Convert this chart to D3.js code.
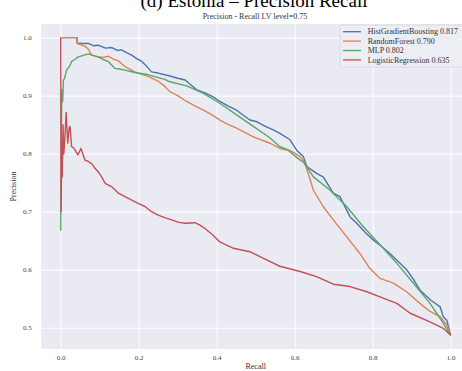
<!DOCTYPE html>
<html>
<head>
<meta charset="utf-8">
<script src="https://cdn.jsdelivr.net/npm/d3@7"></script>
<style>
  body { margin: 0; background: #fff; }
  text { font-family: "Liberation Serif", "DejaVu Serif", serif; }
</style>
</head>
<body>
<div id="chart"></div>
<script>
const WIDTH = 462;
const HEIGHT = 371;
const PLOT = { LEFT: 41.2, RIGHT: 470.2, TOP: 24, BOTTOM: 349 };

const xTicks = [0, 0.2, 0.4, 0.6, 0.8, 1.0];
const yTicks = [0.5, 0.6, 0.7, 0.8, 0.9, 1.0];

const seriesNames = ['HistGradientBoosting 0.817', 'RandomForest 0.790', 'MLP 0.802', 'LogisticRegression 0.635'];
const seriesColors = ['#4C72B0', '#DD8452', '#55A868', '#C44E52'];

// [recall, precision]
const hgbCurve = [
  [0, 1.0], [0.042, 1.0], [0.042, 0.991], [0.055, 0.99], [0.071, 0.99], [0.085, 0.986], [0.096, 0.987],
  [0.115, 0.982], [0.131, 0.983], [0.145, 0.978], [0.156, 0.979], [0.17, 0.974], [0.182, 0.97],
  [0.195, 0.964], [0.208, 0.959], [0.22, 0.951], [0.233, 0.941], [0.25, 0.939], [0.267, 0.936],
  [0.28, 0.934], [0.3, 0.93], [0.319, 0.927], [0.335, 0.918], [0.349, 0.91], [0.37, 0.905],
  [0.391, 0.898], [0.408, 0.89], [0.43, 0.882], [0.451, 0.875], [0.485, 0.858], [0.503, 0.855],
  [0.525, 0.847], [0.545, 0.841], [0.562, 0.835], [0.588, 0.824], [0.605, 0.806], [0.622, 0.795],
  [0.631, 0.778], [0.656, 0.766], [0.673, 0.76], [0.699, 0.732], [0.716, 0.726], [0.742, 0.691],
  [0.759, 0.68], [0.781, 0.664], [0.802, 0.651], [0.823, 0.64], [0.844, 0.628], [0.87, 0.611],
  [0.887, 0.6], [0.905, 0.583], [0.921, 0.565], [0.935, 0.556], [0.95, 0.547], [0.973, 0.536],
  [0.981, 0.519], [0.99, 0.513], [1.0, 0.487]
];

const rfCurve = [
  [0, 1.0], [0.042, 1.0], [0.042, 0.99], [0.054, 0.987], [0.063, 0.985], [0.071, 0.98], [0.079, 0.97],
  [0.096, 0.967], [0.11, 0.966], [0.122, 0.968], [0.135, 0.963], [0.148, 0.96], [0.165, 0.95],
  [0.19, 0.941], [0.225, 0.933], [0.25, 0.925], [0.267, 0.916], [0.28, 0.907], [0.3, 0.9],
  [0.323, 0.89], [0.345, 0.882], [0.366, 0.875], [0.39, 0.866], [0.408, 0.858], [0.43, 0.85],
  [0.451, 0.844], [0.494, 0.829], [0.537, 0.818], [0.562, 0.809], [0.59, 0.805], [0.614, 0.795],
  [0.625, 0.785], [0.635, 0.765], [0.648, 0.737], [0.673, 0.709], [0.699, 0.686], [0.733, 0.657],
  [0.767, 0.628], [0.793, 0.602], [0.819, 0.585], [0.853, 0.577], [0.887, 0.562], [0.921, 0.542],
  [0.947, 0.528], [0.973, 0.519], [0.99, 0.505], [1.0, 0.487]
];

const mlpCurve = [
  [0, 0.667], [0.001, 0.75], [0.002, 0.86], [0.003, 0.91], [0.005, 0.89], [0.007, 0.927], [0.01, 0.93],
  [0.015, 0.944], [0.022, 0.95], [0.028, 0.959], [0.035, 0.962], [0.045, 0.967], [0.06, 0.97],
  [0.071, 0.972], [0.085, 0.969], [0.096, 0.967], [0.11, 0.962], [0.122, 0.959], [0.139, 0.947],
  [0.15, 0.946], [0.165, 0.944], [0.19, 0.94], [0.225, 0.936], [0.267, 0.928], [0.28, 0.924],
  [0.323, 0.917], [0.366, 0.904], [0.408, 0.887], [0.451, 0.867], [0.494, 0.847], [0.537, 0.827],
  [0.562, 0.812], [0.579, 0.808], [0.614, 0.789], [0.622, 0.786], [0.648, 0.76], [0.691, 0.737],
  [0.733, 0.709], [0.776, 0.674], [0.819, 0.643], [0.862, 0.611], [0.904, 0.577], [0.947, 0.542],
  [0.981, 0.508], [1.0, 0.487]
];

const lrCurve = [
  [0, 1.0], [0.001, 0.7], [0.003, 0.82], [0.004, 0.76], [0.006, 0.85], [0.008, 0.8], [0.011, 0.83],
  [0.014, 0.871], [0.018, 0.818], [0.022, 0.845], [0.024, 0.847], [0.028, 0.812], [0.033, 0.81],
  [0.037, 0.806], [0.044, 0.798], [0.052, 0.809], [0.062, 0.789], [0.07, 0.787], [0.079, 0.783],
  [0.088, 0.775], [0.096, 0.769], [0.105, 0.76], [0.114, 0.749], [0.131, 0.743], [0.148, 0.732],
  [0.165, 0.726], [0.182, 0.72], [0.2, 0.714], [0.216, 0.709], [0.233, 0.7], [0.25, 0.694],
  [0.27, 0.689], [0.285, 0.686], [0.3, 0.682], [0.319, 0.68], [0.344, 0.681], [0.357, 0.677],
  [0.37, 0.671], [0.39, 0.66], [0.408, 0.648], [0.443, 0.637], [0.485, 0.631], [0.528, 0.617],
  [0.562, 0.606], [0.614, 0.597], [0.656, 0.588], [0.699, 0.575], [0.742, 0.571], [0.785, 0.562],
  [0.827, 0.551], [0.862, 0.542], [0.896, 0.525], [0.947, 0.51], [0.981, 0.499], [1.0, 0.487]
];

const curves = [hgbCurve, rfCurve, mlpCurve, lrCurve];

const svg = d3.select('#chart')
  .append('svg')
    .attr('width', WIDTH)
    .attr('height', HEIGHT);

const x = d3.scaleLinear().domain([-0.05, 1.05]).range([PLOT.LEFT, PLOT.RIGHT]);
const y = d3.scaleLinear().domain([0.46335, 1.02357]).range([PLOT.BOTTOM, PLOT.TOP]);

svg.append('clipPath').attr('id', 'plotclip')
  .append('rect')
    .attr('x', PLOT.LEFT).attr('y', PLOT.TOP)
    .attr('width', PLOT.RIGHT - PLOT.LEFT).attr('height', PLOT.BOTTOM - PLOT.TOP);

svg.append('rect')
  .attr('x', PLOT.LEFT).attr('y', PLOT.TOP)
  .attr('width', PLOT.RIGHT - PLOT.LEFT).attr('height', PLOT.BOTTOM - PLOT.TOP)
  .attr('fill', '#EAEAF2');

const xAxis = svg.append('g')
  .attr('transform', `translate(0, ${PLOT.BOTTOM})`)
  .call(d3.axisBottom(x).tickValues(xTicks).tickFormat(d3.format('.1f'))
    .tickSize(-(PLOT.BOTTOM - PLOT.TOP)).tickPadding(6));

const yAxis = svg.append('g')
  .attr('transform', `translate(${PLOT.LEFT}, 0)`)
  .call(d3.axisLeft(y).tickValues(yTicks).tickFormat(d3.format('.1f'))
    .tickSize(-(PLOT.RIGHT - PLOT.LEFT)).tickPadding(9.5));

[xAxis, yAxis].forEach(axis => {
  axis.select('.domain').remove();
  axis.selectAll('.tick line').attr('stroke', '#ffffff').attr('stroke-width', 1);
  axis.selectAll('.tick text')
    .attr('fill', '#444')
    .style('font-family', '"Liberation Serif", serif')
    .style('font-size', '7px');
});

const line = d3.line()
  .x(d => x(d[0]))
  .y(d => y(d[1]));

const plot = svg.append('g').attr('clip-path', 'url(#plotclip)');

plot.selectAll('path.curve')
  .data(curves)
  .enter()
  .append('path')
    .attr('class', 'curve')
    .attr('d', line)
    .attr('fill', 'none')
    .attr('stroke', (d, i) => seriesColors[i])
    .attr('stroke-width', 1.4)
    .attr('stroke-linejoin', 'round');

// legend
const legend = svg.append('g').attr('transform', 'translate(340, 25)');
legend.append('rect')
  .attr('width', 140).attr('height', 42)
  .attr('rx', 2)
  .attr('fill', '#EDEDF4')
  .attr('stroke', '#d0d0d8')
  .attr('stroke-width', 0.6);

const items = legend.selectAll('.item')
  .data(seriesNames)
  .enter()
  .append('g')
    .attr('class', 'item')
    .attr('transform', (d, i) => `translate(0, ${6.7 + i * 9.4})`);

items.append('line')
  .attr('x1', 3).attr('x2', 21)
  .attr('stroke', (d, i) => seriesColors[i])
  .attr('stroke-width', 1.3);

items.append('text')
  .attr('x', 27.7).attr('dy', '0.33em')
  .attr('fill', '#333')
  .style('font-size', '8px')
  .text(d => d);

// titles
svg.append('text')
  .attr('x', 254).attr('y', 6.5)
  .attr('text-anchor', 'middle')
  .attr('fill', '#000')
  .style('font-size', '19px')
  .text('(d) Estonia – Precision Recall');

svg.append('text')
  .attr('x', 255).attr('y', 18.5)
  .attr('text-anchor', 'middle')
  .attr('fill', '#333')
  .style('font-size', '8px')
  .text('Precision - Recall LV level=0.75');

svg.append('text')
  .attr('x', (PLOT.LEFT + PLOT.RIGHT) / 2).attr('y', 368.5)
  .attr('text-anchor', 'middle')
  .attr('fill', '#333')
  .style('font-size', '8px')
  .text('Recall');

svg.append('text')
  .attr('transform', `translate(16, ${(PLOT.TOP + PLOT.BOTTOM) / 2}) rotate(-90)`)
  .attr('text-anchor', 'middle')
  .attr('fill', '#333')
  .style('font-size', '8px')
  .text('Precision');
</script>
</body>
</html>
